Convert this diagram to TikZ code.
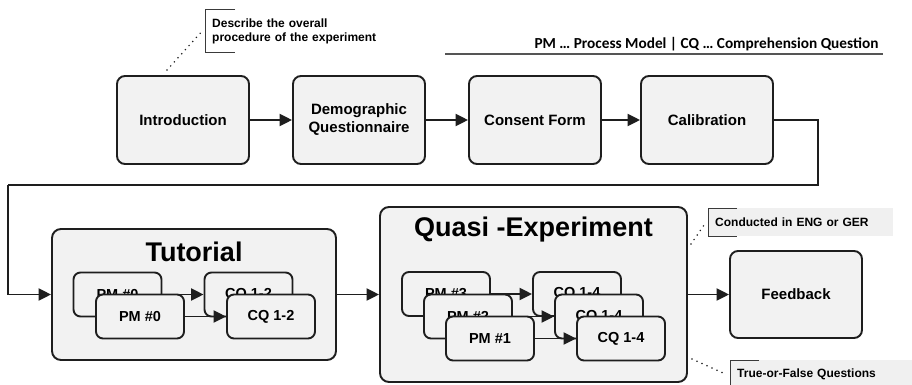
\documentclass[tikz,border=0pt]{standalone}
\usepackage{fontspec}
\setmainfont{Liberation Sans}
\newfontfamily\legendfont{Carlito}
\usetikzlibrary{arrows.meta}
\definecolor{boxfill}{HTML}{F2F2F2}
\definecolor{ink}{HTML}{1E1E1E}
\definecolor{notefill}{HTML}{F0F0F0}
\definecolor{noteline}{HTML}{3A3A3A}
\definecolor{rulegray}{HTML}{555555}
\begin{document}
\begin{tikzpicture}[x=1pt,y=-1pt,
  stage/.style={draw=ink, fill=boxfill, line width=1.9pt, rounded corners=8pt,
    minimum width=132pt, minimum height=88pt, align=center, inner sep=0pt,
    font=\bfseries\fontsize{15}{18}\selectfont},
  container/.style={draw=ink, fill=boxfill, line width=1.9pt, rounded corners=9pt, inner sep=0pt},
  containertitle/.style={font=\bfseries\fontsize{27}{30}\selectfont, inner sep=0pt},
  item/.style={draw=ink, fill=boxfill, line width=1.9pt, rounded corners=7pt,
    minimum width=88pt, minimum height=44pt, inner sep=0pt,
    font=\bfseries\fontsize{14.5}{17}\selectfont},
  conn/.style={draw=ink, line width=1.9pt, -{Triangle[length=12.5pt,width=12pt]}},
  route/.style={draw=ink, line width=1.9pt},
  note/.style={anchor=north west, inner xsep=7pt, inner ysep=0pt, align=left,
    font=\bfseries\fontsize{12}{13.5}\selectfont},
  bracket/.style={draw=noteline, line width=1pt},
  dotline/.style={draw=ink, line width=1.7pt, line cap=round, dash pattern=on 0pt off 5.5pt},
  legendtext/.style={font=\legendfont\bfseries\fontsize{15.3}{18}\selectfont, inner sep=0pt},
  legendrule/.style={draw=rulegray, line width=1.6pt}
]
\useasboundingbox (0,0) rectangle (912,385);
\fill[white] (0,0) rectangle (912,385);

% legend
\node[legendtext] (legend) at (706.5,44) {PM … Process Model | CQ … Comprehension Question};
\coordinate (ruleL) at (445,54);
\coordinate (ruleR) at (883,54);
\draw[legendrule] (ruleL) -- (ruleR);

% top row of stages
\node[stage] (intro)  at (183,120) {Introduction};
\node[stage] (demo)   at (359,120) {Demographic\\Questionnaire};
\node[stage] (consent) at (535,120) {Consent Form};
\node[stage] (calib)  at (707,120) {Calibration};
\draw[conn] (intro) -- (demo);
\draw[conn] (demo) -- (consent);
\draw[conn] (consent) -- (calib);

% bottom row: containers and feedback
\node[container, minimum width=284pt, minimum height=131pt] (tut) at (194,294.5) {};
\node[containertitle] (tuttitle) at (194,252) {Tutorial};
\node[container, minimum width=307pt, minimum height=175pt] (quasi) at (533.5,294.5) {};
\node[containertitle] (quasititle) at (533.5,230) {Quasi -Experiment};
\node[stage, minimum height=87pt] (feedback) at (796,294.5) {Feedback};

% route from calibration down to the tutorial
\coordinate (r1) at (818,185);
\coordinate (r2) at (8,185);
\draw[route] (calib.east) -| (r1) -- (r2);
\draw[conn] (r2) |- (tut.west);
\draw[conn] (tut.east) -- (quasi.west |- tut.east);
\draw[conn] (quasi.east |- feedback.west) -- (feedback.west);

% tutorial stack
\node[item] (tpmB) at (117.5,294.5) {PM \#0};
\node[item] (tcqB) at (248.5,294.5) {CQ 1-2};
\draw[conn] (tpmB) -- (tcqB);
\node[item] (tpmA) at (140,316.5) {PM \#0};
\node[item] (tcqA) at (271,316.5) {CQ 1-2};
\draw[conn] (tpmA) -- (tcqA);

% quasi-experiment stack
\node[item] (qpmC) at (446,294) {PM \#3};
\node[item] (qcqC) at (577,294) {CQ 1-4};
\draw[conn] (qpmC) -- (qcqC);
\node[item] (qpmB) at (468,316.5) {PM \#2};
\node[item] (qcqB) at (599,316.5) {CQ 1-4};
\draw[conn] (qpmB) -- (qcqB);
\node[item] (qpmA) at (490,338.5) {PM \#1};
\node[item] (qcqA) at (621,338.5) {CQ 1-4};
\draw[conn] (qpmA) -- (qcqA);

% annotations
\node[note, minimum height=42pt, text width=190pt] (describe) at (205,10)
  {Describe the overall\\procedure of the experiment};
\draw[bracket] ([xshift=30pt]describe.north west) -- (describe.north west)
  -- (describe.south west) -- ([xshift=30pt]describe.south west);
\coordinate (introtop) at ([shift={(-16,-5)}]intro.north);
\draw[dotline] (introtop) -- ([xshift=-3pt]describe.west);

\node[note, fill=notefill, minimum height=28pt, text width=171pt] (conducted) at (708,208)
  {Conducted in ENG or GER};
\draw[bracket] ([xshift=29pt]conducted.north west) -- (conducted.north west)
  -- (conducted.south west) -- ([xshift=29pt]conducted.south west);
\coordinate (quasitop) at ([shift={(3,38)}]quasi.north east);
\draw[dotline] (quasitop) -- ([xshift=-2pt]conducted.west);

\node[note, fill=notefill, minimum height=29pt, text width=168pt] (truefalse) at (730,360)
  {True-or-False Questions};
\draw[bracket] ([xshift=29pt]truefalse.north west) -- (truefalse.north west)
  -- (truefalse.south west);
\coordinate (quasibot) at ([shift={(4,-24)}]quasi.south east);
\draw[dotline] (quasibot) -- ([xshift=-3pt]truefalse.west);
\end{tikzpicture}
\end{document}
